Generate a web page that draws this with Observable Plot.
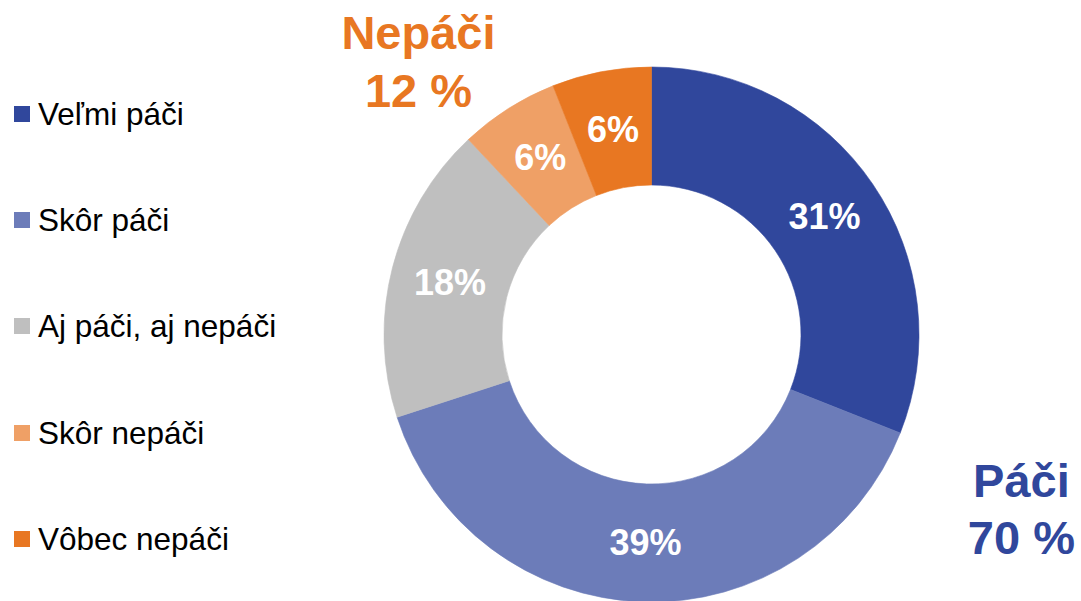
<!DOCTYPE html>
<html>
<head>
<meta charset="utf-8">
<script src="https://cdn.jsdelivr.net/npm/d3@7"></script>
<script src="https://cdn.jsdelivr.net/npm/@observablehq/plot@0.6"></script>
<style>
  html, body { margin: 0; padding: 0; background: #fff; }
  #wrap { position: relative; width: 1081px; height: 601px; overflow: hidden; font-family: "Liberation Sans", Arial, sans-serif; }
  #chart { position: absolute; left: 0; top: 0; }
  .leg { position: absolute; left: 14px; height: 30px; display: flex; align-items: center; font-size: 31.5px; line-height: 30px; color: #000; white-space: nowrap; }
  .leg .sw { width: 16px; height: 16px; margin-right: 8px; flex: none; }
</style>
</head>
<body>
<div id="wrap"><div id="chart"></div></div>
<script>
// ---- data ----
const categories = ["Veľmi páči", "Skôr páči", "Aj páči, aj nepáči", "Skôr nepáči", "Vôbec nepáči"];
const values = [31, 39, 18, 6, 6];
const colors = ["#30479C", "#6C7CB9", "#BFBFBF", "#EFA066", "#E87722"];
const groupNames = ["Páči", "Nepáči"];
const groupMembers = [[0, 1], [3, 4]];
const groupColors = ["#30479C", "#E87722"];

// ---- layout ----
const W = 1081, H = 601;
const cxPx = 651.5, cyPx = 334.5, rPx = 267.5;
const innerRatio = 149.5 / 267.5;

const data = categories.map((c, i) => ({cat: c, value: values[i]}));
const arcs = d3.pie().sort(null).value(d => d.value)(data);
const rm = (1 + innerRatio) / 2;
const labels = arcs.map(a => {
  const m = (a.startAngle + a.endAngle) / 2;
  return {x: rm * Math.sin(m), y: rm * Math.cos(m), text: a.data.value + "%"};
});
const groups = groupNames.map((g, i) => ({
  name: g,
  total: d3.sum(groupMembers[i], j => values[j]),
  color: groupColors[i]
}));
// annotation anchor positions (layout, in donut units)
const groupPos = [{x: 1.381, y: -0.643}, {x: -0.873, y: 1.029}];
const groupText = groups.map((g, i) => ({...g, ...groupPos[i], text: g.name + "\n" + g.total + " %"}));

const colorScale = d3.scaleOrdinal(categories, colors);

const donut = (index, scales) => {
  const cx = scales.x(0), cy = scales.y(0);
  const ro = scales.x(1) - cx, ri = ro * innerRatio;
  const col = scales.color || colorScale;
  const g = d3.create("svg:g").attr("transform", `translate(${cx},${cy})`);
  g.selectAll("path").data(arcs).join("path")
    .attr("d", d3.arc().innerRadius(ri).outerRadius(ro))
    .attr("fill", d => col(d.data.cat))
    .attr("stroke", d => col(d.data.cat))
    .attr("stroke-width", 0.6);
  return g.node();
};

const plot = Plot.plot({
  width: W,
  height: H,
  margin: 0,
  style: {background: "transparent", fontFamily: "'Liberation Sans', Arial, sans-serif", overflow: "visible"},
  x: {domain: [-1, 1], range: [cxPx - rPx, cxPx + rPx], axis: null},
  y: {domain: [-1, 1], range: [cyPx + rPx, cyPx - rPx], axis: null},
  color: {domain: categories, range: colors},
  marks: [
    donut,
    Plot.text(labels, {x: "x", y: "y", text: "text", fill: "white", fontSize: 36, fontWeight: "bold"}),
    Plot.text(groupText, {x: "x", y: "y", text: "text", fill: d => d.color, fontSize: 47, fontWeight: "bold", lineHeight: 1.22, textAnchor: "middle"})
  ]
});
document.getElementById("chart").appendChild(plot);

// legend
const wrap = document.getElementById("wrap");
const legCenters = [114, 220, 326, 433, 539];
categories.forEach((c, i) => {
  const el = document.createElement("div");
  el.className = "leg";
  el.style.top = (legCenters[i] - 15) + "px";
  el.innerHTML = `<span class="sw" style="background:${colorScale(c)}"></span><span>${c}</span>`;
  wrap.appendChild(el);
});
</script>
</body>
</html>
